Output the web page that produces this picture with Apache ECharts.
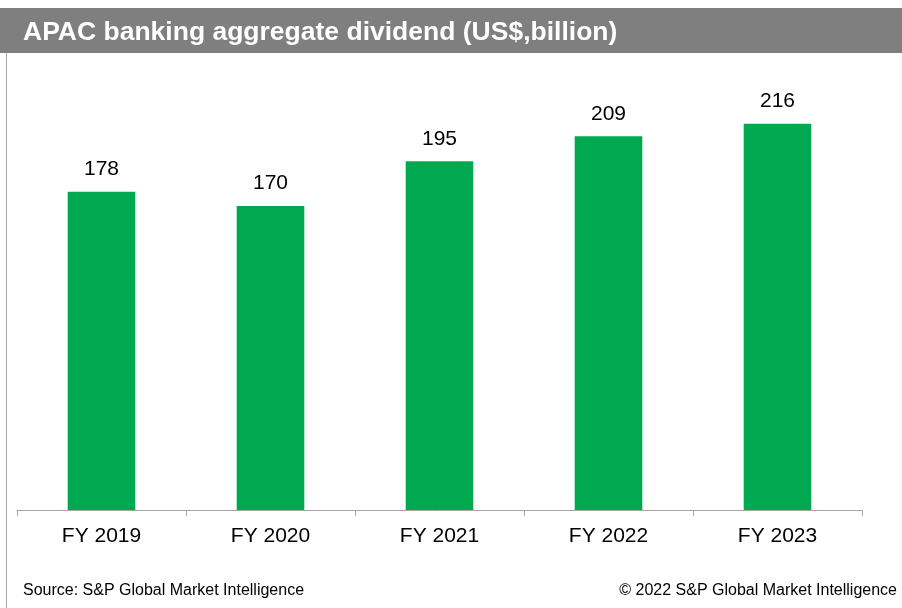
<!DOCTYPE html>
<html>
<head>
<meta charset="utf-8">
<script src="https://cdn.jsdelivr.net/npm/echarts@6/dist/echarts.min.js"></script>
<style>
  html, body { margin: 0; padding: 0; background: #fff; }
  #chart { width: 902px; height: 608px; }
</style>
</head>
<body>
<div id="chart"></div>
<script>
// Fiscal years and aggregate dividend values (US$ billion)
const years = ['FY 2019', 'FY 2020', 'FY 2021', 'FY 2022', 'FY 2023'];
const dividends = [178, 170, 195, 209, 216];

const titleText = 'APAC banking aggregate dividend (US$,billion)';
const sourceText = 'Source: S&P Global Market Intelligence';
const copyrightText = '\u00a9 2022 S&P Global Market Intelligence';

const FONT = '"Liberation Sans", Arial, sans-serif';

const chart = echarts.init(document.getElementById('chart'), null, { renderer: 'canvas' });

chart.setOption({
  animation: false,
  backgroundColor: '#ffffff',
  graphic: [
    // header band
    { type: 'rect', left: 0, top: 8, shape: { width: 902, height: 45 }, style: { fill: '#7f7f7f' }, z: 0 },
    // left frame rule
    { type: 'rect', left: 6, top: 53, shape: { width: 1, height: 555 }, style: { fill: '#a6a6a6' }, z: 0 },
    {
      type: 'text', x: 23, y: 33, z: 2,
      style: { text: titleText, fill: '#ffffff', font: 'bold 26.5px ' + FONT, verticalAlign: 'middle' }
    },
    {
      type: 'text', x: 23, y: 591, z: 2,
      style: { text: sourceText, fill: '#000000', font: '16px ' + FONT, verticalAlign: 'middle' }
    },
    {
      type: 'text', x: 897, y: 591, z: 2,
      style: { text: copyrightText, fill: '#000000', font: '16px ' + FONT, align: 'right', verticalAlign: 'middle' }
    }
  ],
  grid: { left: 17, right: 40, top: 63, bottom: 98 },
  xAxis: {
    type: 'category',
    data: years,
    axisLine: { lineStyle: { color: '#a6a6a6', width: 1 } },
    axisTick: { show: true, length: 6, alignWithLabel: false, lineStyle: { color: '#a6a6a6' } },
    axisLabel: { color: '#000', fontSize: 21, fontFamily: FONT, margin: 16 }
  },
  yAxis: {
    type: 'value',
    min: 0, max: 250,
    show: false,
    splitLine: { show: false }
  },
  series: [{
    type: 'bar',
    data: dividends,
    barWidth: '40%',
    itemStyle: { color: '#00a84f' },
    label: {
      show: true, position: 'top', distance: 12,
      color: '#000', fontSize: 21, fontFamily: FONT
    }
  }]
});
</script>
</body>
</html>
